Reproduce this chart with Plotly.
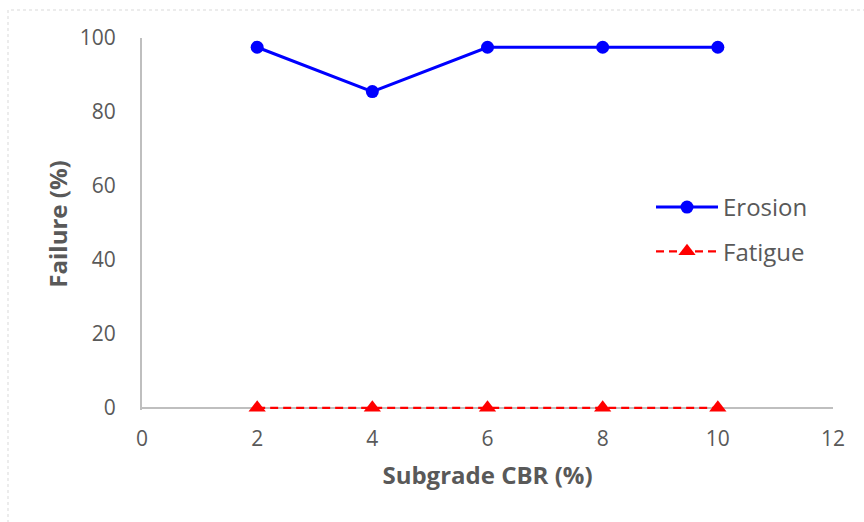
import plotly.graph_objects as go

cbr = [2, 4, 6, 8, 10]
erosion = [97.5, 85.5, 97.5, 97.5, 97.5]
fatigue = [0, 0, 0, 0, 0]
x_ticks = [0, 2, 4, 6, 8, 10, 12]
y_ticks = [0, 20, 40, 60, 80, 100]

FONT = "Open Sans"
GRAY = "#595959"

fig = go.Figure()
fig.add_trace(go.Scatter(
    x=cbr, y=erosion, name="Erosion", mode="lines+markers",
    legendgroup="e",
    line=dict(color="#0000FF", width=3),
    marker=dict(symbol="circle", size=13, color="#0000FF"),
    cliponaxis=False,
))
fig.add_trace(go.Scatter(
    x=cbr, y=fatigue, name="Fatigue", mode="lines+markers",
    legendgroup="f",
    line=dict(color="#FF0000", width=2.25, dash="8px,5px"),
    marker=dict(symbol="triangle-up", size=15, color="#FF0000"),
    cliponaxis=False,
))

L, R, T, B = 142, 31, 38, 112
W, H = 864, 522
pw, ph = W - L - R, H - T - B
YMIN = -0.6

def py(pix):
    # pixel row -> paper y
    return (H - B - pix) / ph

fig.update_layout(
    width=W, height=H,
    margin=dict(l=L, r=R, t=T, b=B),
    paper_bgcolor="white", plot_bgcolor="white",
    font=dict(family=FONT, color=GRAY, size=21),
    showlegend=True,
    legend=dict(
        x=(651 - L) / pw, y=py(185), xanchor="left", yanchor="top",
        font=dict(size=24, color=GRAY, family=FONT),
        bgcolor="rgba(0,0,0,0)", itemwidth=62,
        traceorder="grouped", tracegroupgap=10,
    ),
    xaxis=dict(
        range=[0, 12], tickvals=x_ticks, ticktext=[str(v) for v in x_ticks],
        showgrid=False, zeroline=False, showline=False,
        ticks="", ticklen=0,
        tickfont=dict(size=21, color=GRAY, family=FONT),
        ticklabelstandoff=14,
        title=dict(text="<b>Subgrade CBR (%)</b>", font=dict(size=24, color=GRAY, family=FONT), standoff=16),
    ),
    yaxis=dict(
        range=[YMIN, 100], tickvals=y_ticks, ticktext=[str(v) for v in y_ticks],
        showgrid=False, showline=True, layer="below traces",
        zeroline=True, zerolinecolor="#BFBFBF", zerolinewidth=2,
        linecolor="#BFBFBF", linewidth=2, ticks="", ticklen=0,
        tickfont=dict(size=21, color=GRAY, family=FONT),
        ticklabelstandoff=20,
        title=dict(text="<b>Failure (%)</b>", font=dict(size=24, color=GRAY, family=FONT), standoff=5),
    ),
    shapes=[dict(
        type="rect", xref="paper", yref="paper",
        x0=(8 - L) / pw, x1=(880 - L) / pw,
        y0=py(540), y1=py(10),
        line=dict(color="#D9D9D9", width=1, dash="dot"),
        fillcolor="rgba(0,0,0,0)", layer="below",
    )],
)

fig.write_html("out.html", config={"displayModeBar": False},
               post_script="document.body.style.margin='0px';")
